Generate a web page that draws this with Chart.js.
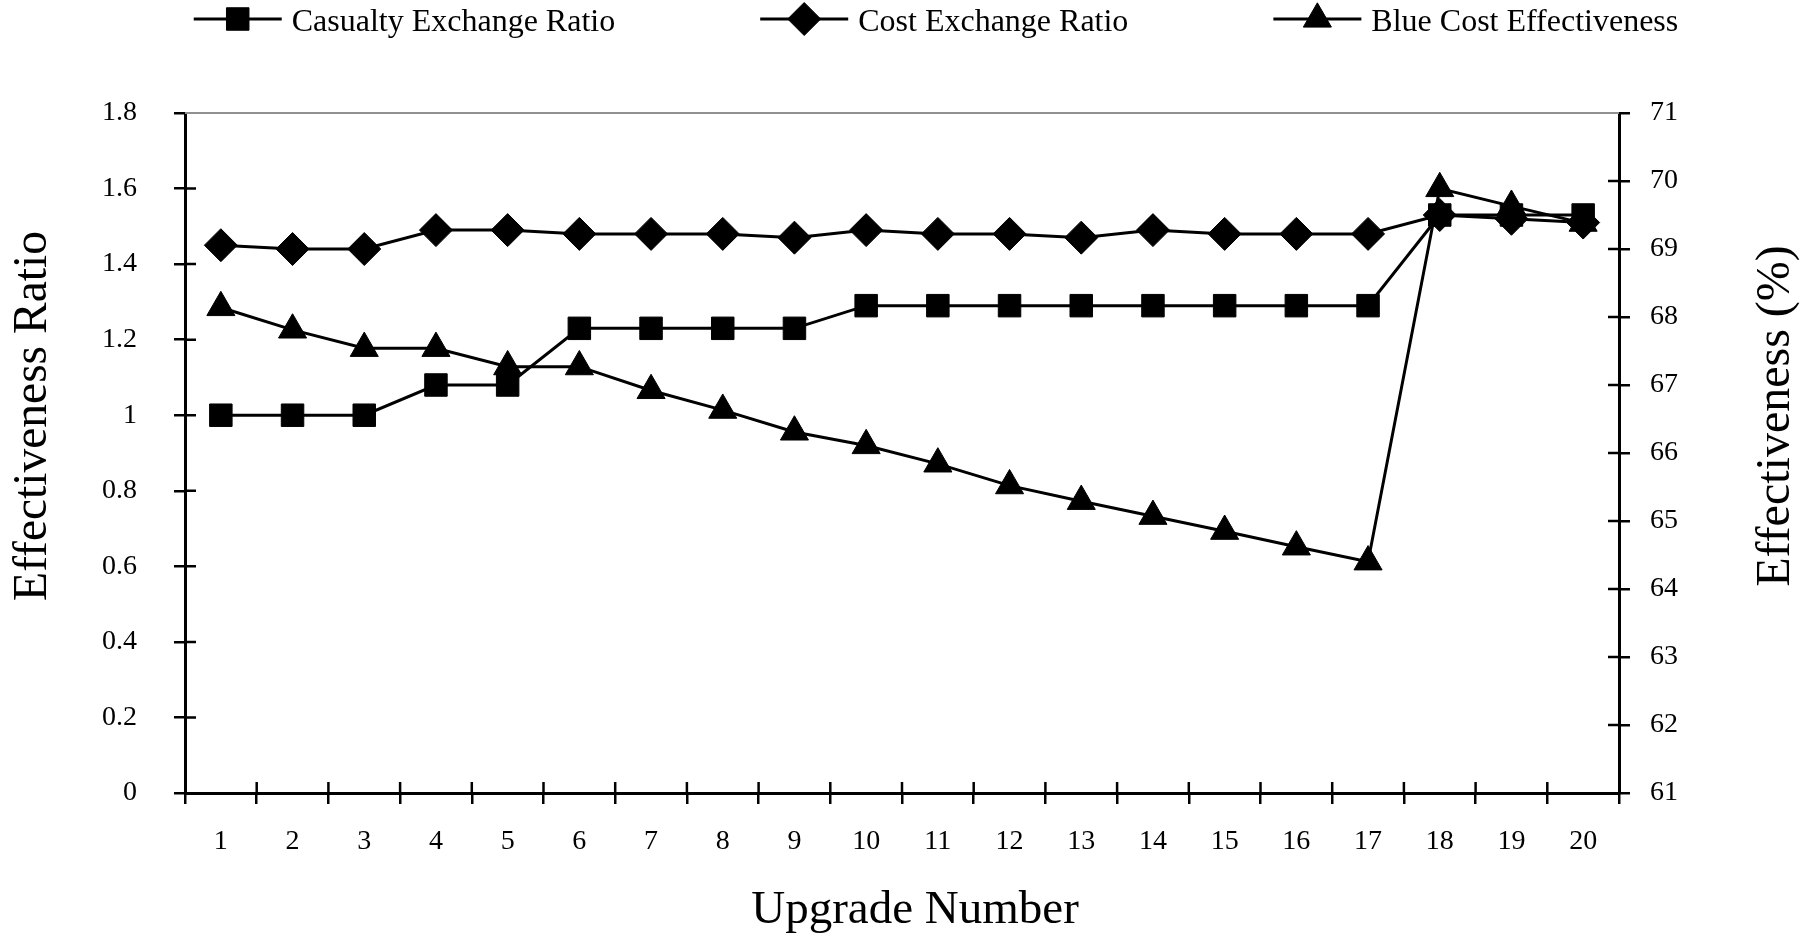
<!DOCTYPE html>
<html>
<head>
<meta charset="utf-8">
<script src="https://cdn.jsdelivr.net/npm/chart.js@4.4.0/dist/chart.umd.min.js"></script>
<style>
  html, body { margin: 0; padding: 0; background: #fff; }
  #wrap { width: 1800px; height: 937px; }
</style>
</head>
<body>
<div id="wrap"><canvas id="chart" width="1800" height="937"></canvas></div>
<script>
/* ── 데이터 ─────────────────────────────────────────────── */
var upgrades      = ['1','2','3','4','5','6','7','8','9','10','11','12','13','14','15','16','17','18','19','20'];
var casualtyRatio = [1.00,1.00,1.00,1.08,1.08,1.23,1.23,1.23,1.23,1.29,1.29,1.29,1.29,1.29,1.29,1.29,1.29,1.53,1.53,1.53];
var costRatio     = [1.45,1.44,1.44,1.49,1.49,1.48,1.48,1.48,1.47,1.49,1.48,1.48,1.47,1.49,1.48,1.48,1.48,1.53,1.52,1.51];
var blueEffect    = [68.14,67.81,67.54,67.54,67.27,67.27,66.92,66.63,66.31,66.11,65.84,65.52,65.29,65.07,64.85,64.62,64.40,69.89,69.63,69.38];
var ratioTicks    = [0,0.2,0.4,0.6,0.8,1,1.2,1.4,1.6,1.8];
var pctTicks      = [61,62,63,64,65,66,67,68,69,70,71];

var FONT = '"Liberation Serif", "Times New Roman", serif';

/* ── 범례 (선 + 마커) ───────────────────────────────────── */
var lineLegend = {
  id: 'lineLegend',
  afterDraw: function(chart) {
    var o = chart.options.plugins.lineLegend;
    var ctx = chart.ctx;
    ctx.save();
    ctx.font = o.fontSize + 'px ' + FONT;
    var items = chart.data.datasets.map(function(ds) {
      return { ds: ds, w: o.lineLen + o.textGap + ctx.measureText(ds.label).width };
    });
    var total = items.reduce(function(s, it) { return s + it.w; }, 0) + o.gap * (items.length - 1);
    var x = (chart.chartArea.left + chart.chartArea.right) / 2 + o.shift - total / 2;
    items.forEach(function(it) {
      ctx.strokeStyle = '#000'; ctx.fillStyle = '#000'; ctx.lineWidth = 3;
      ctx.beginPath(); ctx.moveTo(x, o.y); ctx.lineTo(x + o.lineLen, o.y); ctx.stroke();
      ctx.lineWidth = 1;
      Chart.helpers.drawPoint(ctx, { pointStyle: it.ds.pointStyle, radius: it.ds.pointRadius, rotation: 0, borderWidth: 1 }, x + o.lineLen / 2, o.y);
      ctx.textBaseline = 'middle'; ctx.textAlign = 'left';
      ctx.fillText(it.ds.label, x + o.lineLen + o.textGap, o.y + 4);
      x += it.w + o.gap;
    });
    ctx.restore();
  }
};

/* ── 축 제목 ────────────────────────────────────────────── */
var axisTitles = {
  id: 'axisTitles',
  afterDraw: function(chart) {
    var o = chart.options.plugins.axisTitles;
    var a = chart.chartArea, ctx = chart.ctx;
    var midY = (a.top + a.bottom) / 2 + o.yShift;
    ctx.save();
    ctx.fillStyle = '#000'; ctx.textAlign = 'center'; ctx.textBaseline = 'middle';
    ctx.font = o.xSize + 'px ' + FONT;
    ctx.fillText(o.x, (a.left + a.right) / 2 + o.xShift, chart.height - o.xInset);
    [[o.y, o.leftInset, o.ySize], [o.y1, chart.width - o.rightInset, o.y1Size]].forEach(function(t) {
      ctx.save();
      ctx.translate(t[1], midY);
      ctx.rotate(-Math.PI / 2);
      ctx.font = t[2] + 'px ' + FONT;
      ctx.fillText(t[0], 0, 0);
      ctx.restore();
    });
    ctx.restore();
  }
};

/* ── 축 눈금 (안쪽) + 상단 회색선 ───────────────────────── */
var crossTicks = {
  id: 'crossTicks',
  afterDraw: function(chart) {
    var a = chart.chartArea, ctx = chart.ctx, len = 11;
    ctx.save();
    ctx.strokeStyle = '#909090'; ctx.lineWidth = 2;
    ctx.beginPath(); ctx.moveTo(a.left, a.top); ctx.lineTo(a.right, a.top); ctx.stroke();
    ctx.strokeStyle = '#000'; ctx.lineWidth = 2.5;
    ctx.beginPath();
    var y = chart.scales.y, y1 = chart.scales.y1, x = chart.scales.x;
    y.ticks.forEach(function(t, i) {
      if (i === 0 || i === y.ticks.length - 1) return;
      var p = y.getPixelForValue(t.value);
      ctx.moveTo(a.left, p); ctx.lineTo(a.left + len, p);
    });
    y1.ticks.forEach(function(t, i) {
      if (i === 0 || i === y1.ticks.length - 1) return;
      var p = y1.getPixelForValue(t.value);
      ctx.moveTo(a.right, p); ctx.lineTo(a.right - len, p);
    });
    for (var i = 1; i < upgrades.length; i++) {
      var px = x.getPixelForValue(i - 0.5);
      ctx.moveTo(px, a.bottom); ctx.lineTo(px, a.bottom - len);
    }
    ctx.stroke();
    ctx.restore();
  }
};

var tickFont = { family: FONT, size: 28 };

new Chart(document.getElementById('chart'), {
  type: 'line',
  data: {
    labels: upgrades,
    datasets: [
      { label: 'Casualty Exchange Ratio', data: casualtyRatio, yAxisID: 'y',
        pointStyle: 'rect', pointRadius: 15.9 },
      { label: 'Cost Exchange Ratio', data: costRatio, yAxisID: 'y',
        pointStyle: 'rectRot', pointRadius: 16.5 },
      { label: 'Blue Cost Effectiveness', data: blueEffect, yAxisID: 'y1',
        pointStyle: 'triangle', pointRadius: 16.2 }
    ].map(function(d) {
      d.borderColor = '#000'; d.backgroundColor = '#000';
      d.pointBackgroundColor = '#000'; d.pointBorderColor = '#000';
      d.borderWidth = 3; d.tension = 0; d.pointBorderWidth = 1;
      return d;
    })
  },
  plugins: [lineLegend, axisTitles, crossTicks],
  options: {
    responsive: false, animation: false,
    layout: { padding: { top: 113, left: 0, right: 0, bottom: 0 } },
    plugins: {
      legend: { display: false },
      tooltip: { enabled: false },
      lineLegend: { y: 19, fontSize: 32, lineLen: 88, textGap: 10, gap: 145, shift: 34 },
      axisTitles: {
        x: 'Upgrade Number', y: 'Effectiveness Ratio', y1: 'Effectiveness (%)',
        xSize: 47, ySize: 47.5, y1Size: 48,
        xInset: 26, xShift: 13, leftInset: 34, rightInset: 24, yShift: -37
      }
    },
    scales: {
      x: {
        offset: true,
        grid: { offset: true, drawOnChartArea: false, color: '#000', lineWidth: 2.5, tickLength: 11 },
        border: { color: '#000', width: 3 },
        ticks: { font: tickFont, color: '#000', padding: 21, maxRotation: 0 },
        afterFit: function(s) { s.height = 144; }
      },
      y: {
        position: 'left', min: 0, max: 1.8,
        afterBuildTicks: function(s) { s.ticks = ratioTicks.map(function(v) { return { value: v }; }); },
        grid: { drawOnChartArea: false, color: '#000', lineWidth: 2.5, tickLength: 11 },
        border: { color: '#000', width: 3 },
        ticks: { font: tickFont, color: '#000', padding: 37, callback: function(v) { return String(v); } },
        afterFit: function(s) { s.width = 185; }
      },
      y1: {
        position: 'right', min: 61, max: 71,
        afterBuildTicks: function(s) { s.ticks = pctTicks.map(function(v) { return { value: v }; }); },
        grid: { drawOnChartArea: false, color: '#000', lineWidth: 2.5, tickLength: 11 },
        border: { color: '#000', width: 3 },
        ticks: { font: tickFont, color: '#000', padding: 20, callback: function(v) { return String(v); } },
        afterFit: function(s) { s.width = 181; }
      }
    }
  }
});
</script>
</body>
</html>
